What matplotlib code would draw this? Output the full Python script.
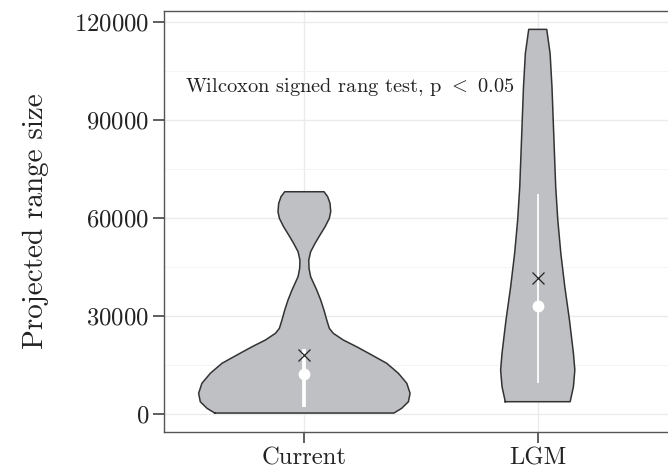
import matplotlib
matplotlib.use("Agg")
import matplotlib.pyplot as plt
import numpy as np

plt.rcParams["font.family"] = ["cmr10", "DejaVu Serif"]
plt.rcParams["mathtext.fontset"] = "cm"
plt.rcParams["axes.formatter.use_mathtext"] = True

groups = ["Current", "LGM"]

# violin outlines: range size values and half-widths (x units)
cur_y = [300, 1740, 3770, 6340, 9400, 12460, 15520, 18060, 20600, 22650,
         24700, 26230, 28770, 31830, 34900, 37950, 42030, 44600, 47140,
         49680, 52250, 54790, 57330, 59900, 61930, 64490, 66520, 68040]
cur_w = [0.384, 0.417, 0.446, 0.453, 0.439, 0.403, 0.353, 0.289, 0.224, 0.167,
         0.124, 0.107, 0.096, 0.084, 0.070, 0.053, 0.027, 0.020, 0.019,
         0.027, 0.046, 0.067, 0.089, 0.107, 0.113, 0.110, 0.100, 0.0843]
lgm_y = [3770, 8360, 13470, 18580, 28770, 38960, 49180, 59380, 69570,
         84880, 100200, 110400, 117740]
lgm_w = [0.139, 0.153, 0.159, 0.153, 0.136, 0.116, 0.099, 0.086, 0.077,
         0.069, 0.061, 0.053, 0.0386]

# summary statistics per group
means = [18060, 41540]
medians = [12240, 33060]
lower = [2230, 9590]
upper = [19800, 67340]
line_widths = [2.7, 1.3]

fig = plt.figure(figsize=(6.68, 4.72), dpi=100)
ax = fig.add_axes([0.246, 0.0847, 0.7686, 0.8926])

ax.set_xlim(0.4, 2.6)
ax.set_ylim(-5510, 123450)

ax.set_yticks([0, 30000, 60000, 90000, 120000])
ax.set_yticks([15000, 45000, 75000, 105000], minor=True)
ax.set_xticks([1, 2])
ax.set_xticklabels(groups)
ax.grid(True, which="major", color="#EBEBEB", lw=1.0, zorder=0)
ax.grid(True, which="minor", axis="y", color="#F2F2F2", lw=0.6, zorder=0)
ax.set_axisbelow(True)
ax.tick_params(which="minor", length=0)
ax.tick_params(which="major", length=8, width=1.1, color="#333333",
               labelsize=17.8, labelcolor="#222222", pad=3)

for s in ax.spines.values():
    s.set_color("#555555")
    s.set_linewidth(1.0)

for i, (ys, ws) in enumerate([(cur_y, cur_w), (lgm_y, lgm_w)]):
    xc = i + 1
    ys = np.array(ys)
    ws = np.array(ws)
    ax.fill_betweenx(ys, xc - ws, xc + ws, facecolor="#BFC0C4",
                     edgecolor="none", zorder=2)
    xs = np.concatenate([xc - ws, (xc + ws)[::-1], [xc - ws[0]]])
    yy = np.concatenate([ys, ys[::-1], [ys[0]]])
    ax.plot(xs, yy, color="#333333", lw=1.1, zorder=3, solid_joinstyle="round")

    ax.plot([xc, xc], [lower[i], upper[i]], color="white",
            lw=line_widths[i], solid_capstyle="butt", zorder=4)
    ax.plot(xc, medians[i], "o", color="white", ms=7.5, zorder=5)
    ax.plot(xc, means[i], "x", color="#222222", ms=9, mew=0.9, zorder=6)

ax.text(1.196, 100000, r"Wilcoxon signed rang test, p $<$ 0.05",
        ha="center", va="center", fontsize=14.7, color="#222222")

ax.set_ylabel("Projected range size", fontsize=21, color="#222222", labelpad=18)

fig.savefig("out.png", dpi=100)
